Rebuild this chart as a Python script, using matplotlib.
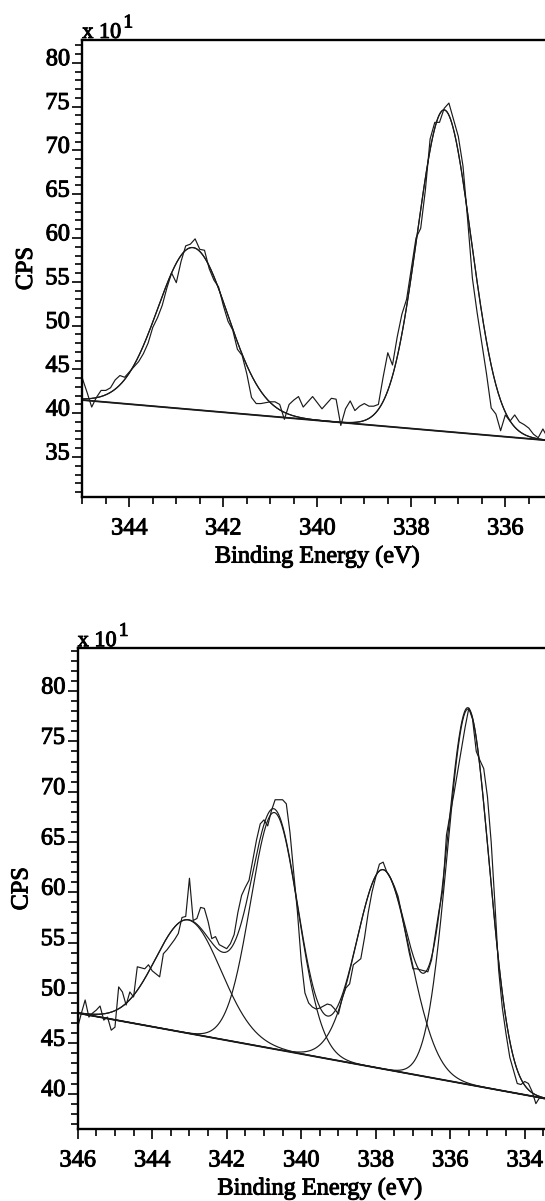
import numpy as np
import matplotlib
matplotlib.use("Agg")
import matplotlib.pyplot as plt
from matplotlib.ticker import MultipleLocator
import matplotlib.transforms as mtransforms
import matplotlib.patheffects as pe

# ---------------- data: top panel ----------------
top_ev_start = 345.0
top_ev_step = 0.1
top_raw_cps = [
    44.0, 42.4, 40.7, 41.8, 42.6, 42.6, 42.9, 43.8, 44.3, 44.1,
    44.7, 45.3, 45.9, 46.8, 48.0, 49.8, 50.9, 52.3, 54.3, 56.0,
    54.9, 57.3, 59.1, 59.3, 59.9, 58.7, 58.6, 56.5, 55.2, 54.4,
    52.3, 50.5, 49.5, 47.3, 46.6, 44.5, 41.8, 41.1, 41.1, 41.2,
    41.3, 41.3, 41.0, 39.3, 41.0, 41.5, 41.9, 40.7, 41.3, 41.9,
    41.2, 40.5, 41.1, 41.7, 41.6, 38.6, 40.5, 41.4, 40.3, 40.8,
    41.1, 40.8, 40.8, 41.0, 44.1, 46.9, 45.5, 48.7, 51.3, 53.0,
    56.5, 60.0, 61.1, 65.5, 71.3, 73.2, 73.2, 74.8, 75.4, 73.5,
    71.6, 68.2, 62.0, 55.4, 51.5, 48.0, 44.5, 40.6, 39.9, 38.0,
    39.8, 39.1, 39.8, 39.0, 38.7, 38.3, 37.6, 37.2, 38.2, 37.2,
    37.5,
]
top_bg_ev = [345.0, 335.0]
top_bg_cps = [41.5, 36.85]
top_peak_center = [342.65, 337.30]
top_peak_height = [18.5, 36.7]
top_peak_fwhm = [1.75, 1.35]

# ---------------- data: bottom panel ----------------
bot_ev_start = 346.0
bot_ev_step = 0.1
bot_raw_cps = [
    46.6, 48.0, 49.3, 47.6, 48.0, 48.3, 48.7, 47.3, 47.6, 46.3,
    46.6, 50.6, 50.1, 48.8, 50.1, 49.6, 52.6, 52.5, 52.4, 52.8,
    52.2, 51.9, 51.6, 53.9, 54.3, 54.8, 55.3, 55.9, 57.5, 57.6,
    61.4, 57.2, 57.4, 58.5, 58.4, 57.1, 55.4, 55.6, 54.8, 54.6,
    54.4, 54.9, 55.8, 58.0, 59.7, 60.5, 61.2, 63.2, 65.2, 66.8,
    67.2, 66.6, 68.1, 69.2, 69.2, 69.2, 68.8, 65.9, 61.9, 58.0,
    53.2, 50.0, 49.0, 48.6, 48.4, 48.5, 48.7, 48.9, 48.8, 48.4,
    47.9, 49.5, 50.5, 50.9, 52.8, 53.1, 53.4, 55.5, 58.0, 60.0,
    61.5, 62.8, 63.0, 62.0, 61.4, 60.6, 59.6, 57.8, 55.9, 54.0,
    52.4, 52.4, 52.3, 52.2, 52.1, 53.3, 55.8, 58.2, 60.2, 65.7,
    67.8, 69.8, 72.0, 74.2, 76.4, 78.3, 77.2, 74.0, 73.1, 72.3,
    69.5, 65.0, 58.9, 52.3, 48.5, 45.9, 43.6, 42.3, 41.0, 40.9,
    41.2, 41.0, 40.2, 39.0, 39.6, 39.5, 39.5,
]
bot_bg_ev = [346.0, 333.0]
bot_bg_cps = [48.0, 39.2]
bot_peak_center = [343.03, 340.72, 337.80, 335.52]
bot_peak_height = [11.26, 23.5, 19.8, 37.3]
bot_peak_fwhm = [2.07, 1.50, 1.70, 1.32]

# ---------------- style ----------------
FONT = ["Liberation Serif", "DejaVu Serif"]
plt.rcParams["font.family"] = FONT
plt.rcParams["font.weight"] = "normal"
TICK_FS = 17.5
LBL_FS = 17.5
LINE_C = "#1a1a1a"
LW = 0.85
HEAVY = [pe.withStroke(linewidth=0.7, foreground="black")]

W, H = 545, 1201
fig = plt.figure(figsize=(W / 100, H / 100), dpi=100)


def gauss(x, c, h, f):
    return h * np.exp(-4 * np.log(2) * ((x - c) / f) ** 2)


def panel(rect, xlim, ylim, ymaj, ev_start, ev_step, raw, bg_ev, bg_cps,
          centers, heights, fwhms):
    ax = fig.add_axes(rect)
    ax.set_xlim(*xlim)
    ax.set_ylim(*ylim)

    ev = np.round(ev_start - ev_step * np.arange(len(raw)), 3)
    xf = np.linspace(bg_ev[0], bg_ev[1], 800)
    bg = np.interp(xf, bg_ev[::-1], bg_cps[::-1])
    comps = [gauss(xf, c, h, f) for c, h, f in zip(centers, heights, fwhms)]

    ax.plot(bg_ev, bg_cps, color=LINE_C, lw=1.3)
    for comp in comps:
        ax.plot(xf, bg + comp, color=LINE_C, lw=LW)
    ax.plot(xf, bg + np.sum(comps, axis=0), color=LINE_C, lw=LW)
    ax.plot(ev, raw, color=LINE_C, lw=LW)

    for s in ("left", "top", "bottom"):
        ax.spines[s].set_linewidth(1.7)
    ax.spines["right"].set_visible(False)

    ax.xaxis.set_major_locator(MultipleLocator(2))
    ax.xaxis.set_minor_locator(MultipleLocator(0.5))
    ax.set_yticks(ymaj)
    ax.yaxis.set_minor_locator(MultipleLocator(1))
    ax.tick_params(which="both", direction="out", top=False, right=False,
                   width=1.2, colors="black")
    ax.tick_params(axis="x", which="major", length=7.2, pad=8,
                   labelsize=TICK_FS)
    ax.tick_params(axis="x", which="minor", length=5)
    ax.tick_params(axis="y", which="major", length=7.5, pad=1.5,
                   labelsize=TICK_FS)
    ax.tick_params(axis="y", which="minor", length=5.2)
    ax.set_xticklabels([f"{int(round(v))}" for v in ax.get_xticks()])
    ax.set_yticklabels([f"{int(v)}" for v in ymaj])
    off = mtransforms.ScaledTranslation(0, 4 / 72, fig.dpi_scale_trans)
    for lab in ax.get_yticklabels():
        lab.set_transform(lab.get_transform() + off)
    for lab in ax.get_xticklabels() + ax.get_yticklabels():
        lab.set_path_effects(HEAVY)

    xl = ax.set_xlabel("Binding Energy (eV)", fontsize=LBL_FS, labelpad=5)
    yl = ax.set_ylabel("CPS", fontsize=LBL_FS, labelpad=6)
    xl.set_path_effects(HEAVY)
    yl.set_path_effects(HEAVY)

    t = ax.annotate("x 10", xy=(0, 1), xycoords="axes fraction",
                    xytext=(0, 1.5), textcoords="offset points",
                    ha="left", va="baseline", fontsize=16)
    s = ax.annotate("1", xy=(1, 0.6), xycoords=t, xytext=(1.5, 0),
                    textcoords="offset points", ha="left", va="bottom",
                    fontsize=14)
    t.set_path_effects(HEAVY)
    s.set_path_effects(HEAVY)
    return ax


# top panel: axes from x=82.3px, y=40..497.3px; 47 px per eV
top_rect = [82.3 / W, 1 - 497.3 / H, 470 / W, 457.3 / H]
panel(top_rect, (345, 335), (30.4, 82.6), list(range(35, 81, 5)),
      top_ev_start, top_ev_step, top_raw_cps, top_bg_ev, top_bg_cps,
      top_peak_center, top_peak_height, top_peak_fwhm)

# bottom panel: axes from x=77.7px, y=648.3..1129.3px; 37.25 px per eV
bot_rect = [77.7 / W, 1 - 1129.3 / H, 484.25 / W, 481 / H]
panel(bot_rect, (346, 333), (36.45, 84.25), list(range(40, 81, 5)),
      bot_ev_start, bot_ev_step, bot_raw_cps, bot_bg_ev, bot_bg_cps,
      bot_peak_center, bot_peak_height, bot_peak_fwhm)

fig.savefig("out.png", dpi=100)
